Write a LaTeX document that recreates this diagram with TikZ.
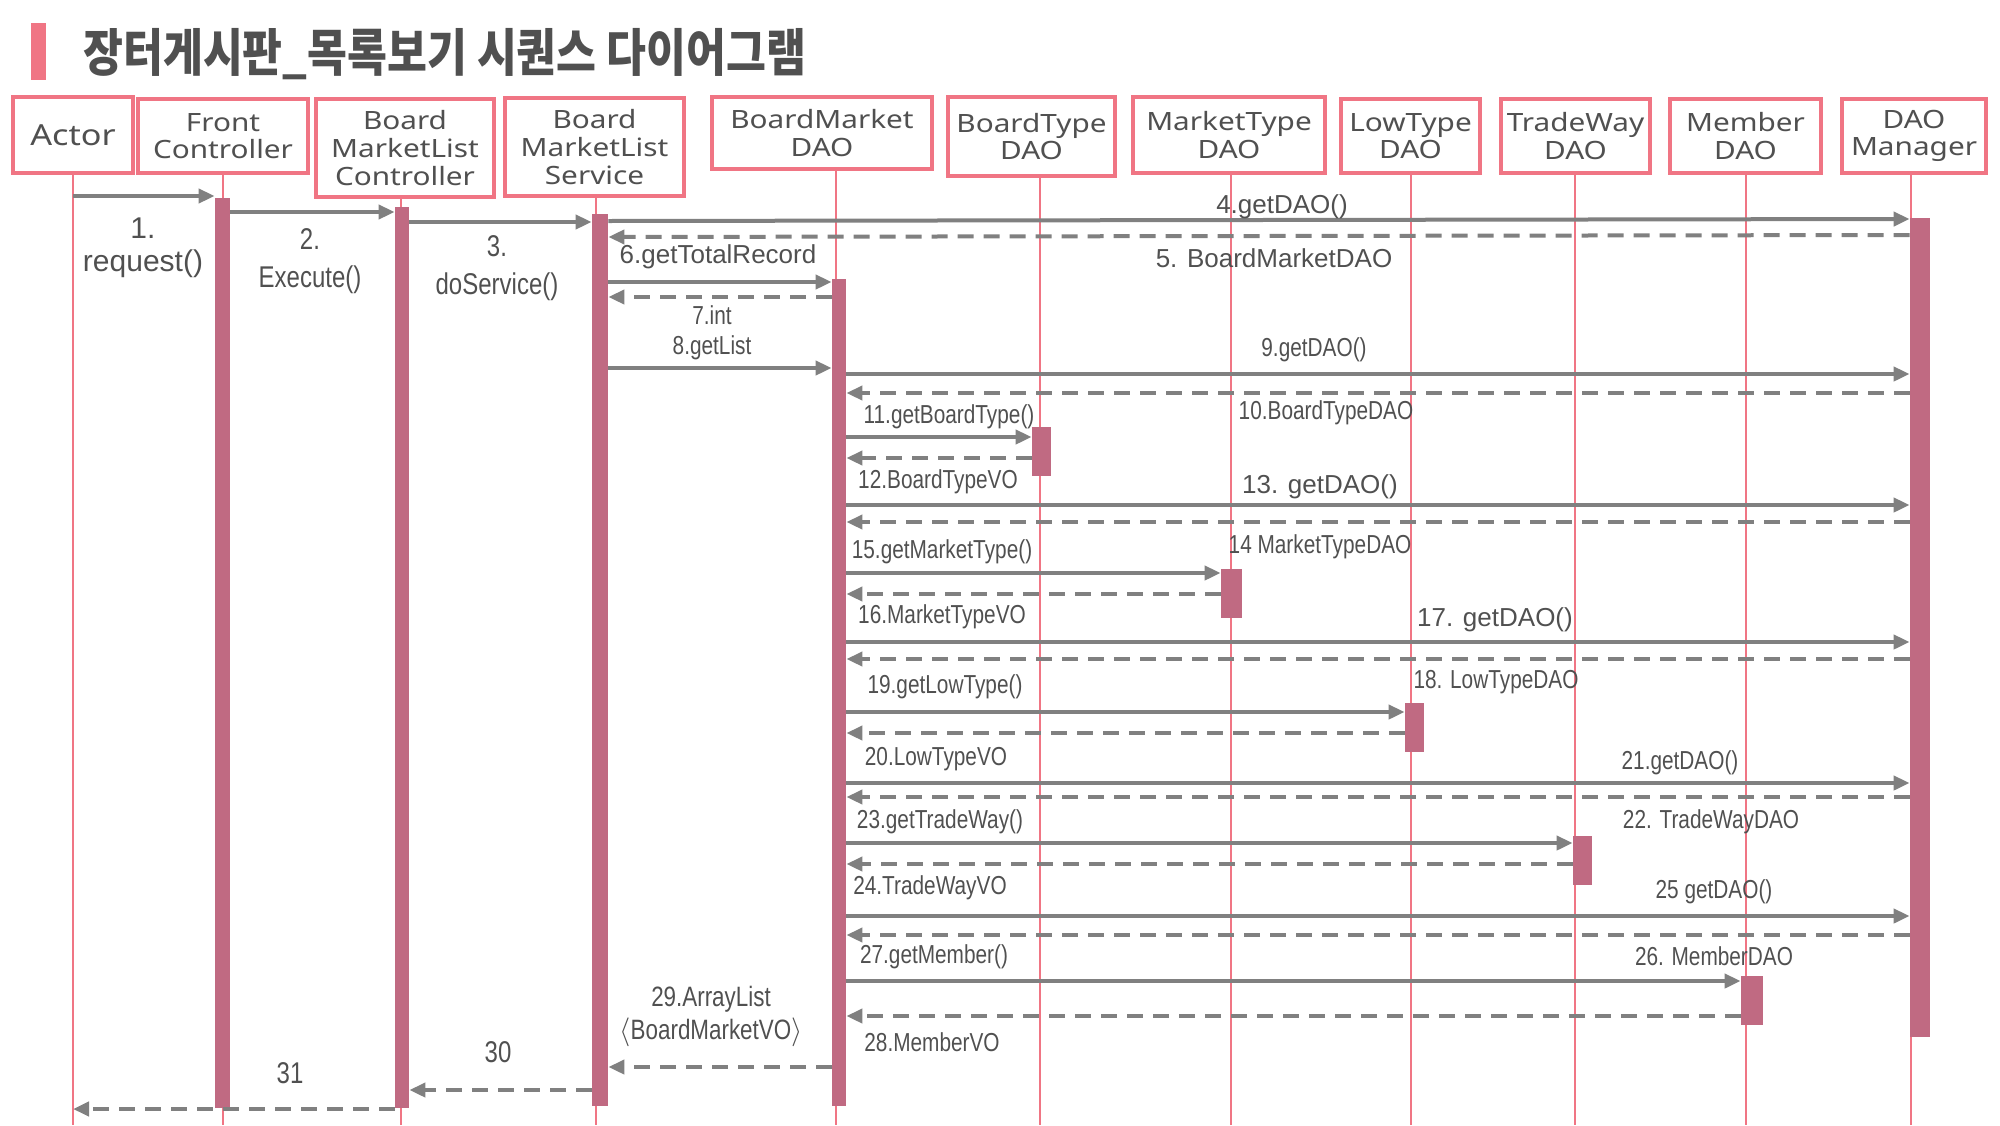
\documentclass[tikz,border=0pt]{standalone}
\usepackage{fontspec}
\usepackage{tikz}
\usetikzlibrary{arrows.meta,fit}

\newfontfamily\boxfont{Noto Sans}[FakeStretch=1.18]
\newfontfamily\msgfont{Liberation Sans}
\newfontfamily\msgcfont{Liberation Sans}[FakeStretch=0.8]
\newfontfamily\titlefont{Noto Sans CJK KR}[FakeStretch=0.85]

\definecolor{boxc}{RGB}{240,117,132}
\definecolor{barc}{RGB}{192,106,130}
\definecolor{arrc}{RGB}{128,128,128}
\definecolor{txtc}{RGB}{80,80,80}

\begin{document}
\begin{tikzpicture}[x=0.5pt,y=-0.5pt,
    obj/.style={rectangle,draw=boxc,line width=2pt,fill=white,text=txtc,
                align=center,inner sep=0pt,
                font=\boxfont\fontsize{12.6}{13.8}\selectfont},
    life/.style={draw=boxc,line width=1.2pt},
    act/.style={fill=barc,draw=none,inner sep=0pt},
    call/.style={draw=arrc,line width=2pt,-{Triangle[length=8pt,width=7pt]}},
    ret/.style={call,dash pattern=on 8pt off 5pt},
    lbl/.style={text=txtc,inner sep=0pt,font=\msgfont\fontsize{13}{15}\selectfont},
    lblc/.style={text=txtc,inner sep=0pt,font=\msgcfont\fontsize{13}{15}\selectfont},
    lblb/.style={text=txtc,inner sep=0pt,align=center,
                 font=\msgcfont\fontsize{15}{19}\selectfont}]

  \useasboundingbox (0,0) rectangle (2000,1125);

  \fill[boxc] (31,23) rectangle (46,80);
  \node[anchor=west,text=txtc,inner sep=0pt,
        font=\titlefont\bfseries\fontsize{25.5}{30}\selectfont]
        (title) at (83,54) {장터게시판\_목록보기 시퀀스 다이어그램};

  \node[obj,minimum width=60pt,minimum height=38pt,
        font=\boxfont\fontsize{14.5}{16}\selectfont] (actor) at (73,135) {Actor};
  \node[obj,minimum width=85pt,minimum height=37pt]     (front)  at (223,136)    {Front\\Controller};
  \node[obj,minimum width=89pt,minimum height=49pt]     (ctrl)   at (405,148)    {Board\\MarketList\\Controller};
  \node[obj,minimum width=89.5pt,minimum height=49pt]   (svc)    at (594.5,147)  {Board\\MarketList\\Service};
  \node[obj,minimum width=110pt,minimum height=36pt]    (bmdao)  at (822,133)    {BoardMarket\\DAO};
  \node[obj,minimum width=83.5pt,minimum height=39.5pt] (btdao)  at (1031.5,136.5) {BoardType\\DAO};
  \node[obj,minimum width=96pt,minimum height=38pt]     (mtdao)  at (1229,135)   {MarketType\\DAO};
  \node[obj,minimum width=69.5pt,minimum height=37pt]   (ltdao)  at (1410.5,136) {LowType\\DAO};
  \node[obj,minimum width=74.5pt,minimum height=37pt]   (twdao)  at (1575.5,136) {TradeWay\\DAO};
  \node[obj,minimum width=75.5pt,minimum height=37pt]   (mbdao)  at (1745.5,136) {Member\\DAO};
  \node[obj,minimum width=72pt,minimum height=37pt]     (daomgr) at (1914,136)   {DAO\\Manager};

  \foreach \n/\x in {actor/73,front/223,ctrl/401,svc/596,bmdao/836,btdao/1040,
                     mtdao/1231,ltdao/1411,twdao/1575,mbdao/1746,daomgr/1911}
    \draw[life] (\n.south -| \x,0) -- (\x,1125);

  \node[act,fit={(215,198) (230,1108)}]   (fcb) {};
  \node[act,fit={(395,207) (409,1108)}]   (ctb) {};
  \node[act,fit={(592,214) (608,1106)}]   (svb) {};
  \node[act,fit={(832,279) (846,1106)}]   (bmb) {};
  \node[act,fit={(1032,427) (1051,476)}]  (btb) {};
  \node[act,fit={(1221,569) (1242,618)}]  (mtb) {};
  \node[act,fit={(1405,703) (1424,752)}]  (ltb) {};
  \node[act,fit={(1573,836) (1592,885)}]  (twb) {};
  \node[act,fit={(1741,976) (1763,1025)}] (mbb) {};
  \node[act,fit={(1910,218) (1930,1037)}] (dmb) {};

  \draw[call] (actor.south |- 0,196) -- (fcb.west |- 0,196);
  \draw[call] (fcb.east |- 0,212) -- (ctb.west |- 0,212);
  \draw[call] (ctb.east |- 0,222) -- (svb.west |- 0,222);
  \draw[call] (svb.east |- 0,221) -- (dmb.west |- 0,219);
  \draw[ret]  (dmb.west |- 0,235) -- (svb.east |- 0,237);
  \draw[call] (svb.east |- 0,282) -- (bmb.west |- 0,282);
  \draw[ret]  (bmb.west |- 0,297) -- (svb.east |- 0,297);
  \draw[call] (svb.east |- 0,368) -- (bmb.west |- 0,368);

  \foreach \ya/\yb in {374/393,505/522,642/659,783/797,916/935} {
    \draw[call] (bmb.east |- 0,\ya) -- (dmb.west |- 0,\ya);
    \draw[ret]  (dmb.west |- 0,\yb) -- (bmb.east |- 0,\yb);
  }
  \foreach \b/\ya/\yb in {btb/437/458,mtb/573/594,ltb/712/733,twb/843/864,mbb/981/1016} {
    \draw[call] (bmb.east |- 0,\ya) -- (\b.west |- 0,\ya);
    \draw[ret]  (\b.west |- 0,\yb) -- (bmb.east |- 0,\yb);
  }

  \draw[ret] (bmb.west |- 0,1067) -- (svb.east |- 0,1067);
  \draw[ret] (svb.west |- 0,1090) -- (ctb.east |- 0,1090);
  \draw[ret] (ctb.west |- 0,1109) -- (actor.south |- 0,1109);

  \node[lblb,font=\msgfont\fontsize{15}{16.5}\selectfont] (l1) at (143,248) {1.\\request()};
  \node[lblb] (l2)  at (310,261)   {2.\\Execute()};
  \node[lblb] (l3)  at (497,268)   {3.\\doService()};
  \node[lbl]  (l4)  at (1282,207)  {4.getDAO()};
  \node[lbl]  (l5)  at (1274,258)  {5. BoardMarketDAO};
  \node[lbl]  (l6)  at (718,257)   {6.getTotalRecord};
  \node[lblc] (l7)  at (712,315)   {7.int};
  \node[lblc] (l8)  at (712,348)   {8.getList};
  \node[lblc] (l9)  at (1314,350)  {9.getDAO()};
  \node[lblc] (l10) at (1326,413)  {10.BoardTypeDAO};
  \node[lblc] (l11) at (949,417)   {11.getBoardType()};
  \node[lblc] (l12) at (938,482)   {12.BoardTypeVO};
  \node[lbl]  (l13) at (1320,487)  {13. getDAO()};
  \node[lblc] (l14) at (1320,547)  {14 MarketTypeDAO};
  \node[lblc] (l15) at (942,552)   {15.getMarketType()};
  \node[lblc] (l16) at (942,617)   {16.MarketTypeVO};
  \node[lbl]  (l17) at (1495,620)  {17. getDAO()};
  \node[lblc] (l18) at (1496,682)  {18. LowTypeDAO};
  \node[lblc] (l19) at (945,687)   {19.getLowType()};
  \node[lblc] (l20) at (936,759)   {20.LowTypeVO};
  \node[lblc] (l21) at (1680,763)  {21.getDAO()};
  \node[lblc] (l22) at (1711,822)  {22. TradeWayDAO};
  \node[lblc] (l23) at (940,822)   {23.getTradeWay()};
  \node[lblc] (l24) at (930,888)   {24.TradeWayVO};
  \node[lblc] (l25) at (1714,892)  {25 getDAO()};
  \node[lblc] (l26) at (1714,956)  {26. MemberDAO};
  \node[lblc] (l27) at (934,957)   {27.getMember()};
  \node[lblc] (l28) at (932,1042)  {28.MemberVO};
  \node[lblb,font=\msgcfont\fontsize{14}{16.5}\selectfont] (l29) at (711,1016)
       {29.ArrayList\\$\langle$BoardMarketVO$\rangle$};
  \node[lblb] (l30) at (498,1052)  {30};
  \node[lblb] (l31) at (290,1073)  {31};
\end{tikzpicture}
\end{document}
